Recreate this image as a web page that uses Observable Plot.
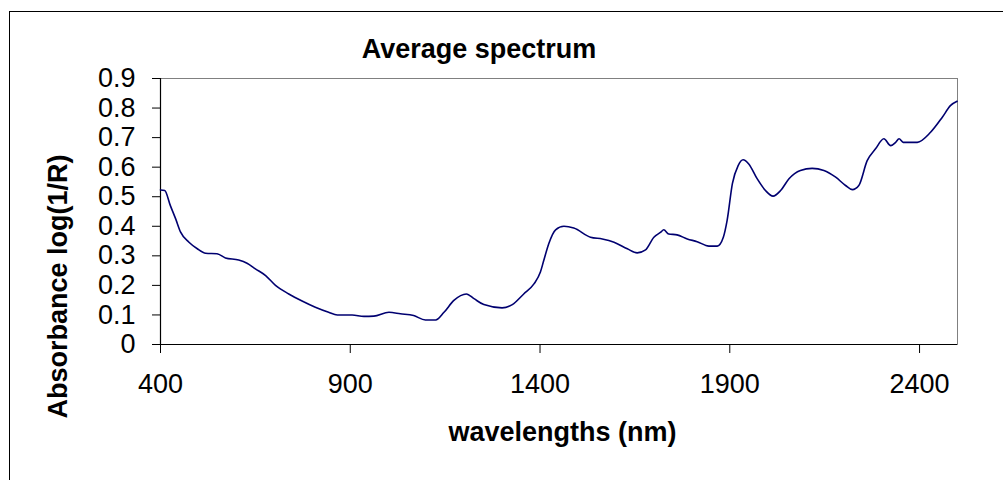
<!DOCTYPE html>
<html><head><meta charset="utf-8">
<script src="https://cdn.jsdelivr.net/npm/d3@7"></script>
<script src="https://cdn.jsdelivr.net/npm/@observablehq/plot@0.6"></script>
<style>
html,body{margin:0;padding:0;background:#fff;}
#wrap{position:relative;width:1003px;height:480px;overflow:hidden;}
#border{position:absolute;left:9px;top:11px;width:1100px;height:600px;border-left:1px solid #000;border-top:1px solid #000;}
#chart{position:absolute;left:0;top:0;}
</style></head><body>
<div id="wrap"><div id="border"></div><div id="chart"></div></div>
<script>
const wavelengths = [400,411,426,440,453,475,497,519,549,571,606,628,650,677,703,738,773,808,843,866,905,936,962,1002,1032,1067,1098,1125,1147,1173,1206,1226,1252,1300,1327,1357,1384,1401,1410,1423,1441,1463,1489,1533,1564,1595,1630,1656,1678,1700,1718,1726,1739,1761,1788,1814,1845,1867,1883,1893,1907,1922,1935,1950,1972,1994,2014,2034,2056,2086,2117,2148,2179,2205,2223,2240,2262,2284,2306,2324,2337,2346,2357,2394,2429,2460,2482,2499];
const absorbance = [0.523,0.521,0.470,0.425,0.380,0.346,0.324,0.309,0.307,0.293,0.286,0.275,0.256,0.233,0.200,0.171,0.147,0.126,0.109,0.100,0.100,0.095,0.096,0.109,0.104,0.098,0.083,0.083,0.109,0.149,0.171,0.155,0.135,0.124,0.135,0.171,0.205,0.245,0.285,0.341,0.388,0.400,0.394,0.363,0.357,0.346,0.324,0.310,0.320,0.363,0.380,0.388,0.374,0.371,0.357,0.348,0.333,0.333,0.363,0.420,0.545,0.605,0.625,0.611,0.561,0.521,0.502,0.521,0.561,0.589,0.596,0.589,0.566,0.538,0.524,0.538,0.622,0.662,0.696,0.673,0.684,0.696,0.684,0.684,0.718,0.769,0.809,0.823];
const xTicks = [400, 900, 1400, 1900, 2400];
const yTicks = [0, 0.1, 0.2, 0.3, 0.4, 0.5, 0.6, 0.7, 0.8, 0.9];
const titleText = "Average spectrum";
const xLabel = "wavelengths (nm)";
const yLabel = "Absorbance log(1/R)";

const data = wavelengths.map((w, i) => ({w, a: absorbance[i]}));
const font = "'Liberation Sans', Arial, Helvetica, sans-serif";

const chart = Plot.plot({
  width: 1003, height: 480,
  marginLeft: 160, marginRight: 46, marginTop: 78, marginBottom: 136,
  style: {fontFamily: font, fontSize: "27px", color: "#000", background: "transparent", overflow: "visible"},
  x: {domain: [400, 2500], ticks: xTicks, tickSize: 9, tickPadding: 20, label: null, tickFormat: d => String(d)},
  y: {domain: [0, 0.9], ticks: yTicks, tickSize: 8, tickPadding: 17, label: null,
      tickFormat: d => String(+d.toFixed(1))},
  marks: [
    Plot.frame({stroke: "#808080", strokeWidth: 1}),
    Plot.ruleX([400], {stroke: "#000", strokeWidth: 1.2}),
    Plot.ruleY([0], {stroke: "#000", strokeWidth: 1.2}),
    Plot.line(data, {x: "w", y: "a", stroke: "#000070", strokeWidth: 1.6, curve: "monotone-x"}),
    Plot.text([titleText], {frameAnchor: "top", lineAnchor: "bottom", dx: -80, dy: -21, fontWeight: "bold", fontSize: 27, fill: "#000"}),
    Plot.text([xLabel], {frameAnchor: "bottom", lineAnchor: "bottom", dx: 3.5, dy: 96, fontWeight: "bold", fontSize: 27, fill: "#000"}),
    Plot.text([yLabel], {frameAnchor: "left", lineAnchor: "middle", rotate: -90, dx: -102.6, dy: 207, fontWeight: "bold", fontSize: 27, fill: "#000"})
  ]
});
document.getElementById("chart").appendChild(chart);
</script>
</body></html>
